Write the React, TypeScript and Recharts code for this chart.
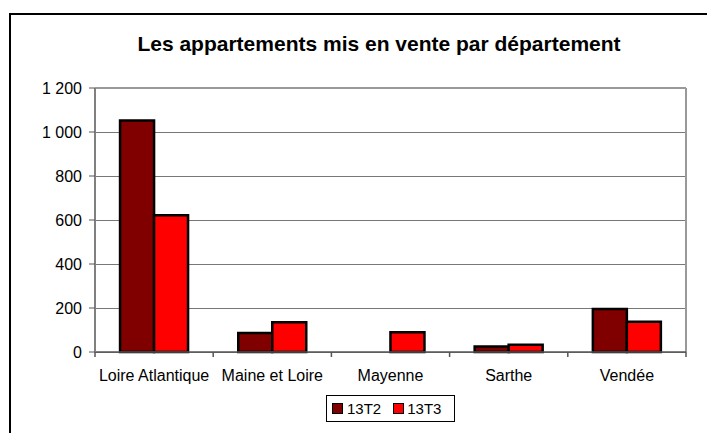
import { BarChart, Bar, XAxis, YAxis, CartesianGrid, ReferenceLine } from 'recharts';

const departements = ['Loire Atlantique', 'Maine et Loire', 'Mayenne', 'Sarthe', 'Vendée'];
const serie13T2 = [1052, 86, 0, 25, 196];
const serie13T3 = [622, 135, 90, 33, 138];
const seriesNames = ['13T2', '13T3'];
const seriesColors = ['#800000', '#ff0000'];
const yTicks = [0, 200, 400, 600, 800, 1000, 1200];

const W = 707;
const H = 433;
const margin = { top: 88, right: 21, bottom: 51, left: 0 };
const yAxisWidth = 95;
const font = '"Liberation Sans", Arial, sans-serif';

const data = departements.map((name, i) => ({
  name,
  '13T2': serie13T2[i],
  '13T3': serie13T3[i],
}));

// width of one category band, used to put the tick marks between categories
const band = (W - margin.left - margin.right - yAxisWidth) / departements.length;

const fmt = (v: number) => String(v).replace(/\B(?=(\d{3})+(?!\d))/g, ' ');

function CategoryTick(props: any) {
  const { x, y, payload, index } = props;
  const last = index === departements.length - 1;
  return (
    <g>
      <line x1={x - band / 2} x2={x - band / 2} y1={y} y2={y + 5} stroke="#555" strokeWidth={1.5} />
      {last && <line x1={x + band / 2} x2={x + band / 2} y1={y} y2={y + 5} stroke="#555" strokeWidth={1.5} />}
      <text x={x} y={y + 29} textAnchor="middle" fontSize={16} fontFamily={font} fill="#000">
        {payload.value}
      </text>
    </g>
  );
}

export default function App() {
  return (
    <div style={{ position: 'absolute', left: 0, top: 0, width: W, height: H, overflow: 'hidden', background: '#fff' }}>
      {/* outer frame, cut by the picture edge */}
      <div style={{ position: 'absolute', left: 9, top: 13, width: 740, height: 480, border: '2px solid #000' }} />

      <div
        style={{
          position: 'absolute', left: 79, top: 33, width: 600, textAlign: 'center',
          fontFamily: font, fontWeight: 'bold', fontSize: 21, lineHeight: '21px', color: '#000',
        }}
      >
        Les appartements mis en vente par département
      </div>

      <div style={{ position: 'absolute', left: 0, top: 0 }}>
        <BarChart width={W} height={H} data={data} margin={margin} barCategoryGap="21.2%" barGap={0}>
          <CartesianGrid vertical={false} stroke="#777" strokeWidth={1} shapeRendering="crispEdges" />
          <XAxis
            dataKey="name"
            height={30}
            tickSize={0}
            tickMargin={0}
            tickLine={false}
            axisLine={{ stroke: '#555', strokeWidth: 1.5 }}
            tick={<CategoryTick />}
            interval={0}
          />
          <YAxis
            width={yAxisWidth}
            domain={[0, 1200]}
            ticks={yTicks}
            tickFormatter={fmt}
            tickSize={6}
            tickMargin={7}
            axisLine={{ stroke: '#808080', strokeWidth: 2 }}
            tickLine={{ stroke: '#555' }}
            tick={{ fontSize: 16, fontFamily: font, fill: '#000' }}
          />
          <ReferenceLine x={departements[departements.length - 1]} position="end" stroke="#999" strokeWidth={2} />
          <ReferenceLine y={yTicks[yTicks.length - 1]} stroke="#999" strokeWidth={2} />
          {seriesNames.map((s, i) => (
            <Bar key={s} dataKey={s} fill={seriesColors[i]} stroke="#000" strokeWidth={2.5} isAnimationActive={false} />
          ))}
        </BarChart>
      </div>

      {/* legend */}
      <div
        style={{
          position: 'absolute', left: 326, top: 395, width: 127, height: 25, border: '1px solid #000',
          display: 'flex', alignItems: 'center', fontFamily: font, fontSize: 15, color: '#000',
        }}
      >
        {seriesNames.map((s, i) => (
          <div key={s} style={{ display: 'flex', alignItems: 'center', marginLeft: i === 0 ? 5 : 12 }}>
            <span style={{ width: 9, height: 9, background: seriesColors[i], border: '1.5px solid #000', display: 'inline-block' }} />
            <span style={{ marginLeft: i === 0 ? 4 : 3 }}>{s}</span>
          </div>
        ))}
      </div>
    </div>
  );
}
